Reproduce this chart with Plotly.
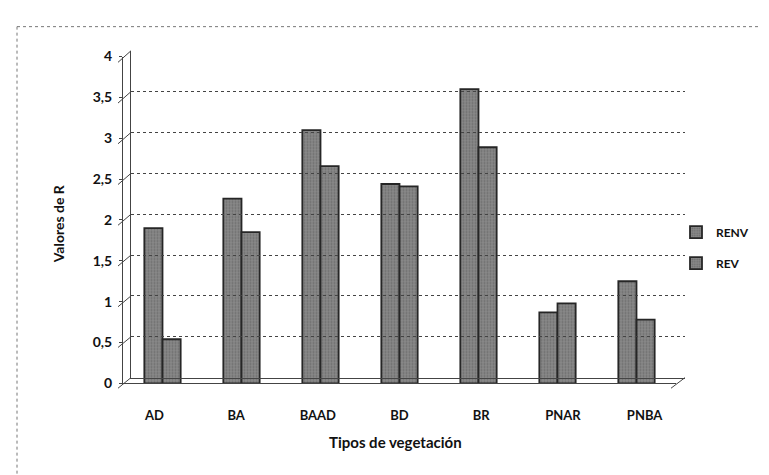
import plotly.graph_objects as go

categories = ["AD", "BA", "BAAD", "BD", "BR", "PNAR", "PNBA"]
renv = [1.90, 2.26, 3.10, 2.44, 3.60, 0.87, 1.25]
rev = [0.54, 1.85, 2.66, 2.41, 2.89, 0.98, 0.78]
tick_vals = [0, 0.5, 1, 1.5, 2, 2.5, 3, 3.5, 4]
tick_text = ["0", "0,5", "1", "1,5", "2", "2,5", "3", "3,5", "4"]

W, H = 769, 475
def fy(p):
    return 1 - p / H
def fx(p):
    return p / W

FONT = "Lato"
BAR = "#8a8a8a"
EDGE = "#262626"
GRID = "#444444"

fig = go.Figure()
for name, vals in [("RENV", renv), ("REV", rev)]:
    fig.add_trace(go.Bar(
        x=categories, y=vals, name=name, xaxis="x", yaxis="y", legendgroup=name,
        marker=dict(color=BAR, line=dict(color=EDGE, width=1.8),
                    pattern=dict(shape=".", fgcolor="#505050", bgcolor=BAR, size=3, solidity=0.4)),
    ))
# helper traces so the decorative axes exist
fig.add_trace(go.Scatter(x=categories, y=[None]*len(categories), xaxis="x2", yaxis="y3",
                         mode="markers", showlegend=False, hoverinfo="skip"))
fig.add_trace(go.Scatter(x=[0], y=[None], xaxis="x3", yaxis="y2",
                         mode="markers", showlegend=False, hoverinfo="skip"))

front_x0, back_x0 = 110, 123
bold = dict(family=FONT, color="#111", weight="bold")
fig.update_layout(
    width=W, height=H, margin=dict(l=0, r=0, t=0, b=0),
    paper_bgcolor="white", plot_bgcolor="rgba(0,0,0,0)",
    barmode="group", bargap=0.54, bargroupgap=0.0,
    showlegend=True,
    legend=dict(x=fx(668), y=fy(208), xanchor="left", yanchor="top",
                font=dict(size=12, **bold), bgcolor="rgba(0,0,0,0)",
                itemwidth=30, tracegroupgap=12, traceorder="grouped"),
    xaxis=dict(domain=[fx(115), fx(668)], anchor="y", showticklabels=False, showgrid=False,
               zeroline=False, showline=False, ticks=""),
    yaxis=dict(domain=[fy(380), fy(41)], range=[0, 4], anchor="x", showticklabels=False,
               showgrid=False, zeroline=False, showline=False),
    xaxis2=dict(domain=[fx(front_x0), fx(663)], anchor="y3", overlaying="x", showgrid=False,
                zeroline=False, showline=True, linecolor=GRID, linewidth=1, ticks="",
                tickfont=dict(size=13, **bold), categoryorder="array",
                categoryarray=categories, type="category", ticklabelstandoff=20),
    yaxis3=dict(domain=[fy(385), fy(47)], range=[0, 4], anchor="x2", overlaying="y",
                tickvals=tick_vals, ticktext=tick_text, showgrid=False, zeroline=False,
                showline=True, linecolor=GRID, linewidth=1, ticks="outside", ticklen=3,
                tickcolor=GRID, tickfont=dict(size=14, **bold), ticklabelstandoff=4),
    xaxis3=dict(domain=[fx(back_x0), fx(677)], anchor="y2", range=[0, 1], showticklabels=False,
                showgrid=False, zeroline=False, showline=True, linecolor=GRID, linewidth=1),
    yaxis2=dict(domain=[fy(374), fy(35)], range=[0, 4], anchor="x3", tickvals=tick_vals,
                showticklabels=False, showgrid=True, gridcolor=GRID, gridwidth=1,
                griddash="dot", zeroline=False, showline=True, linecolor=GRID, linewidth=1),
)

shapes = []
for v in tick_vals:
    yf = 385 - v * (385 - 47) / 4
    yb = 374 - v * (374 - 35) / 4
    shapes.append(dict(type="line", xref="paper", yref="paper",
                       x0=fx(front_x0), y0=fy(yf), x1=fx(back_x0), y1=fy(yb),
                       line=dict(color=GRID, width=1)))
shapes.append(dict(type="line", xref="paper", yref="paper", x0=fx(663), y0=fy(385),
                   x1=fx(677), y1=fy(374), line=dict(color=GRID, width=1)))
shapes.append(dict(type="line", xref="paper", yref="paper", x0=fx(9), y0=fy(10), x1=1, y1=fy(10),
                   line=dict(color="#777", width=1, dash="dot")))
shapes.append(dict(type="line", xref="paper", yref="paper", x0=fx(9), y0=fy(10), x1=fx(9), y1=0,
                   line=dict(color="#777", width=1, dash="dot")))
fig.update_layout(shapes=shapes)

fig.add_annotation(text="Valores de R", x=fx(50), y=fy(215), xref="paper", yref="paper",
                   xanchor="center", yanchor="middle",
                   textangle=-90, showarrow=False, font=dict(size=14, **bold))
fig.add_annotation(text="Tipos de vegetación", x=fx(387), y=fy(441), xref="paper", yref="paper",
                   xanchor="center", yanchor="middle",
                   showarrow=False, font=dict(size=15, **bold))

fig.write_html("out.html")
